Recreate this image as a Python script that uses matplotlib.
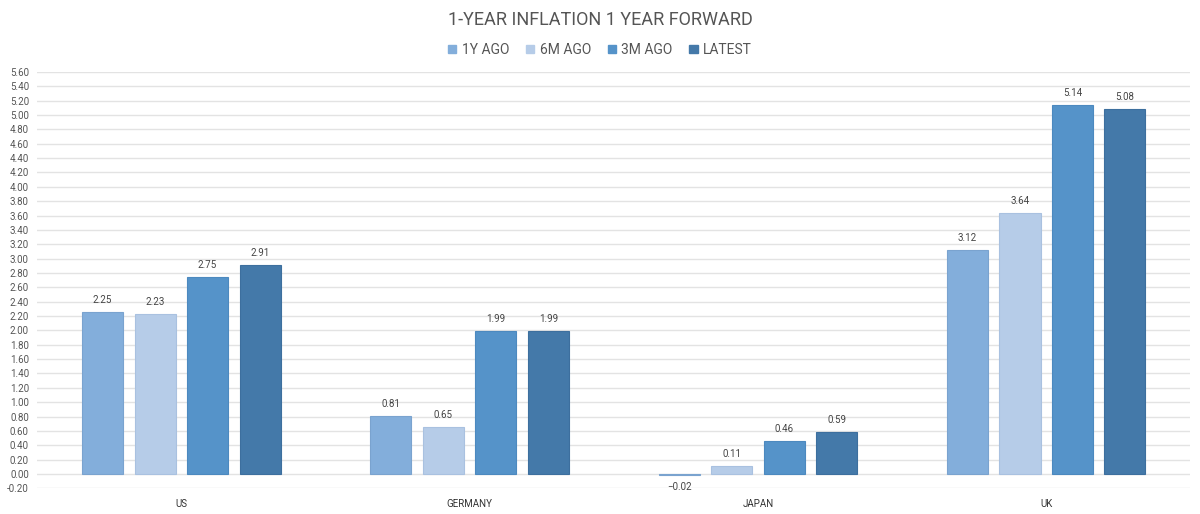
import matplotlib
matplotlib.use("Agg")
import matplotlib.pyplot as plt
import numpy as np
from matplotlib.patches import Patch

plt.rcParams['font.family'] = ['Roboto', 'DejaVu Sans']

categories = ["US", "GERMANY", "JAPAN", "UK"]
series_names = ["1Y AGO", "6M AGO", "3M AGO", "LATEST"]
y1_ago = [2.25, 0.81, -0.02, 3.12]
m6_ago = [2.23, 0.65, 0.11, 3.64]
m3_ago = [2.75, 1.99, 0.46, 5.14]
latest = [2.91, 1.99, 0.59, 5.08]
series = [y1_ago, m6_ago, m3_ago, latest]
colors = ["#83aedb", "#b6cce8", "#5593c9", "#4479a9"]
edges = ["#7aa3cf", "#a9c1e0", "#4c89bf", "#3d6f9e"]
yticks = np.round(np.arange(-0.2, 5.61, 0.2), 2)

fig = plt.figure(figsize=(12, 5.14), dpi=100)
ax = fig.add_axes([0.031, 0.05, 0.961, 0.81])

x = np.arange(len(categories))
width = 0.1425
step = 0.182
offsets = (np.arange(4) - 1.5) * step
for i, (vals, c, ec) in enumerate(zip(series, colors, edges)):
    bars = ax.bar(x + offsets[i], vals, width=width, color=c, edgecolor=ec,
                  linewidth=0.8, zorder=3, label=series_names[i])
    for b, v in zip(bars, vals):
        if v >= 0:
            ax.annotate(f"{v:.2f}", (b.get_x() + b.get_width() / 2, v),
                        xytext=(0, 5), textcoords="offset points",
                        ha="center", va="bottom", fontsize=7, color="#444444")
        else:
            ax.annotate(f"\u2212{abs(v):.2f}", (b.get_x() + b.get_width() / 2, v),
                        xytext=(0, -5), textcoords="offset points",
                        ha="center", va="top", fontsize=7, color="#444444")

ax.set_xlim(-0.5, 3.5)
ax.set_ylim(-0.2, 5.6)
ax.set_yticks(yticks)
ax.set_yticklabels([f"{t:.2f}" for t in yticks], fontsize=7, color="#555555")
ax.set_xticks(x)
ax.set_xticklabels(categories, fontsize=7, color="#333333")
ax.tick_params(axis='both', length=0, pad=8)
ax.tick_params(axis='y', pad=6)
ax.grid(axis='y', color="#e3e3e3", linewidth=1, zorder=0)
for s in ax.spines.values():
    s.set_visible(False)

fig.text(0.5, 0.962, "1-YEAR INFLATION 1 YEAR FORWARD", ha="center", va="center",
         fontsize=13, color="#555555")
handles = [Patch(facecolor=c, edgecolor=c) for c in colors]
fig.legend(handles, series_names, loc="center", bbox_to_anchor=(0.5, 0.903), ncol=4,
           frameon=False, fontsize=10, handlelength=0.6, handleheight=0.6,
           handletextpad=0.4, columnspacing=1.2, labelcolor="#555555")

fig.savefig("out.png", dpi=100)
